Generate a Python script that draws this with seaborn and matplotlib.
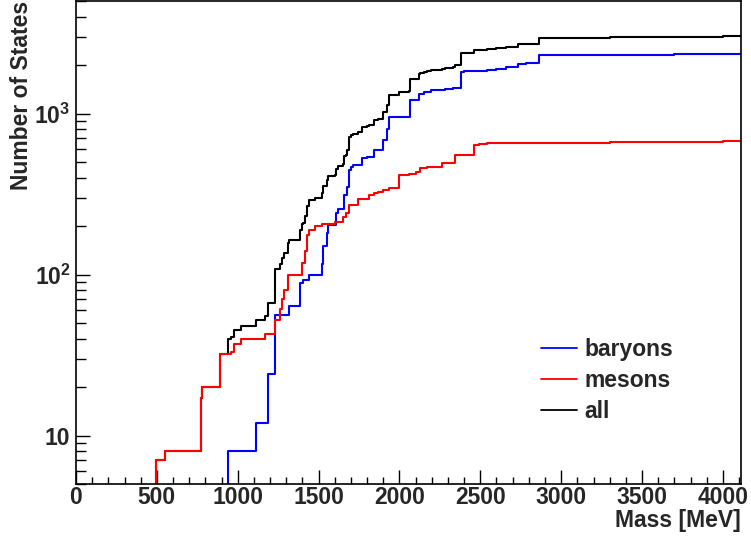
import matplotlib
matplotlib.use("Agg")
import matplotlib.pyplot as plt
import matplotlib.ticker as mticker
import seaborn as sns
import pandas as pd

# mass breakpoints [MeV] and cumulative number of states from that mass on
mass = [0, 139, 495, 548, 775, 782, 892, 938, 958, 980, 1020, 1115, 1170, 1190,
        1230, 1232, 1260, 1275, 1285, 1310, 1318, 1385, 1395, 1405, 1415, 1430,
        1440, 1480, 1520, 1530, 1550, 1560, 1600, 1605, 1620, 1650, 1656, 1670,
        1675, 1688, 1690, 1700, 1710, 1745, 1770, 1800, 1810, 1840, 1870, 1900,
        1920, 1935, 2000, 2060, 2065, 2100, 2120, 2130, 2150, 2170, 2195, 2260,
        2280, 2330, 2345, 2380, 2400, 2460, 2490, 2540, 2600, 2660, 2730, 2780,
        2865, 3300, 3700, 4000, 4110]
baryons = [0, 0, 0, 0, 0, 0, 0, 8, 8, 8, 8, 12, 12, 24,
           24, 56, 56, 56, 56, 56, 64, 88, 88, 92, 92, 92,
           100, 100, 116, 150, 180, 203, 203, 240, 257, 257, 312, 312,
           350, 350, 445, 467, 478, 478, 528, 539, 539, 592, 592, 683,
           800, 952, 952, 952, 1209, 1209, 1330, 1330, 1360, 1360, 1408, 1408,
           1430, 1449, 1449, 1810, 1835, 1835, 1850, 1870, 1900, 1945, 2040, 2060,
           2297, 2315, 2330, 2345, 2345]
mesons = [0, 3, 7, 8, 17, 20, 32, 32, 33, 37, 40, 40, 43, 43,
          52, 52, 61, 70, 80, 100, 100, 100, 118, 118, 140, 176,
          189, 200, 205, 205, 205, 205, 212, 212, 212, 229, 229, 240,
          240, 270, 270, 270, 270, 294, 294, 294, 311, 320, 327, 335,
          335, 343, 415, 424, 424, 435, 435, 456, 456, 467, 467, 490,
          490, 490, 552, 552, 552, 636, 645, 652, 655, 655, 658, 658,
          660, 665, 670, 673, 673]
all_states = [0, 3, 7, 8, 17, 20, 32, 40, 41, 45, 48, 52, 55, 67,
              76, 108, 117, 126, 136, 156, 164, 188, 206, 210, 232, 268,
              289, 300, 321, 355, 385, 408, 415, 452, 469, 486, 541, 552,
              590, 620, 715, 737, 748, 772, 822, 833, 850, 912, 919, 1018,
              1135, 1295, 1367, 1376, 1633, 1644, 1765, 1786, 1816, 1827, 1875, 1898,
              1920, 1939, 2001, 2362, 2387, 2471, 2495, 2522, 2555, 2600, 2698, 2718,
              2957, 2980, 3000, 3018, 3018]

df = pd.DataFrame({"Mass": mass, "baryons": baryons, "mesons": mesons, "all": all_states})

sns.set_style("white")
plt.rcParams["font.family"] = ["Liberation Sans", "DejaVu Sans"]
plt.rcParams["font.weight"] = "bold"
plt.rcParams["mathtext.fontset"] = "custom"
plt.rcParams["mathtext.rm"] = "Liberation Sans:bold"
plt.rcParams["mathtext.bf"] = "Liberation Sans:bold"
plt.rcParams["mathtext.it"] = "Liberation Sans:bold"

fs = 16.5

fig = plt.figure(figsize=(7.51, 5.42), dpi=100)
ax = fig.add_axes([76 / 751, 58 / 542, 664.7 / 751, 483 / 542])

# draw "all" first so mesons sit on top where they coincide
sns.lineplot(data=df, x="Mass", y="all", color="black", lw=1.5,
             drawstyle="steps-post", label="all", ax=ax)
sns.lineplot(data=df, x="Mass", y="baryons", color="#0000ff", lw=1.5,
             drawstyle="steps-post", label="baryons", ax=ax)
sns.lineplot(data=df, x="Mass", y="mesons", color="#ff0000", lw=1.5,
             drawstyle="steps-post", label="mesons", ax=ax)

ax.set_yscale("log", nonpositive="clip")
ax.set_xlim(0, 4110)
ax.set_ylim(5, 5000)

ax.xaxis.set_major_locator(mticker.MultipleLocator(500))
ax.xaxis.set_minor_locator(mticker.MultipleLocator(100))
ax.yaxis.set_major_locator(mticker.FixedLocator([10, 100, 1000]))
ax.yaxis.set_major_formatter(mticker.FixedFormatter(["10", r"$10^2$", r"$10^3$"]))
ax.yaxis.set_minor_locator(mticker.LogLocator(base=10, subs=range(2, 10)))
ax.yaxis.set_minor_formatter(mticker.NullFormatter())

ax.tick_params(axis="both", which="both", direction="in", color="black",
               bottom=True, left=True, top=False, right=False, labelsize=fs)
ax.tick_params(axis="x", which="major", length=10, width=1, pad=1.5)
ax.tick_params(axis="x", which="minor", length=5, width=1)
ax.tick_params(axis="y", which="major", length=10, width=1, pad=4)
ax.tick_params(axis="y", which="minor", length=7, width=1)
for lab in ax.get_xticklabels() + ax.get_yticklabels():
    lab.set_fontweight("bold")
for sp in ax.spines.values():
    sp.set_color("black")
    sp.set_linewidth(1.2)

ax.set_xlabel("Mass [MeV]", fontsize=fs, fontweight="bold", loc="right", labelpad=0)
ax.set_ylabel("Number of States", fontsize=fs, fontweight="bold", loc="top")
ax.yaxis.set_label_coords(-0.065, 1.0)

handles, labels = ax.get_legend_handles_labels()
order = [labels.index(n) for n in ["baryons", "mesons", "all"]]
leg = ax.legend([handles[i] for i in order], [labels[i] for i in order],
                loc="upper left", bbox_to_anchor=(0.668, 0.345), frameon=False,
                prop={"size": fs, "weight": "bold"}, handlelength=1.57,
                handletextpad=0.36, labelspacing=0.34)
for ln in leg.get_lines():
    ln.set_linewidth(1.3)

fig.savefig("out.png", dpi=100)
